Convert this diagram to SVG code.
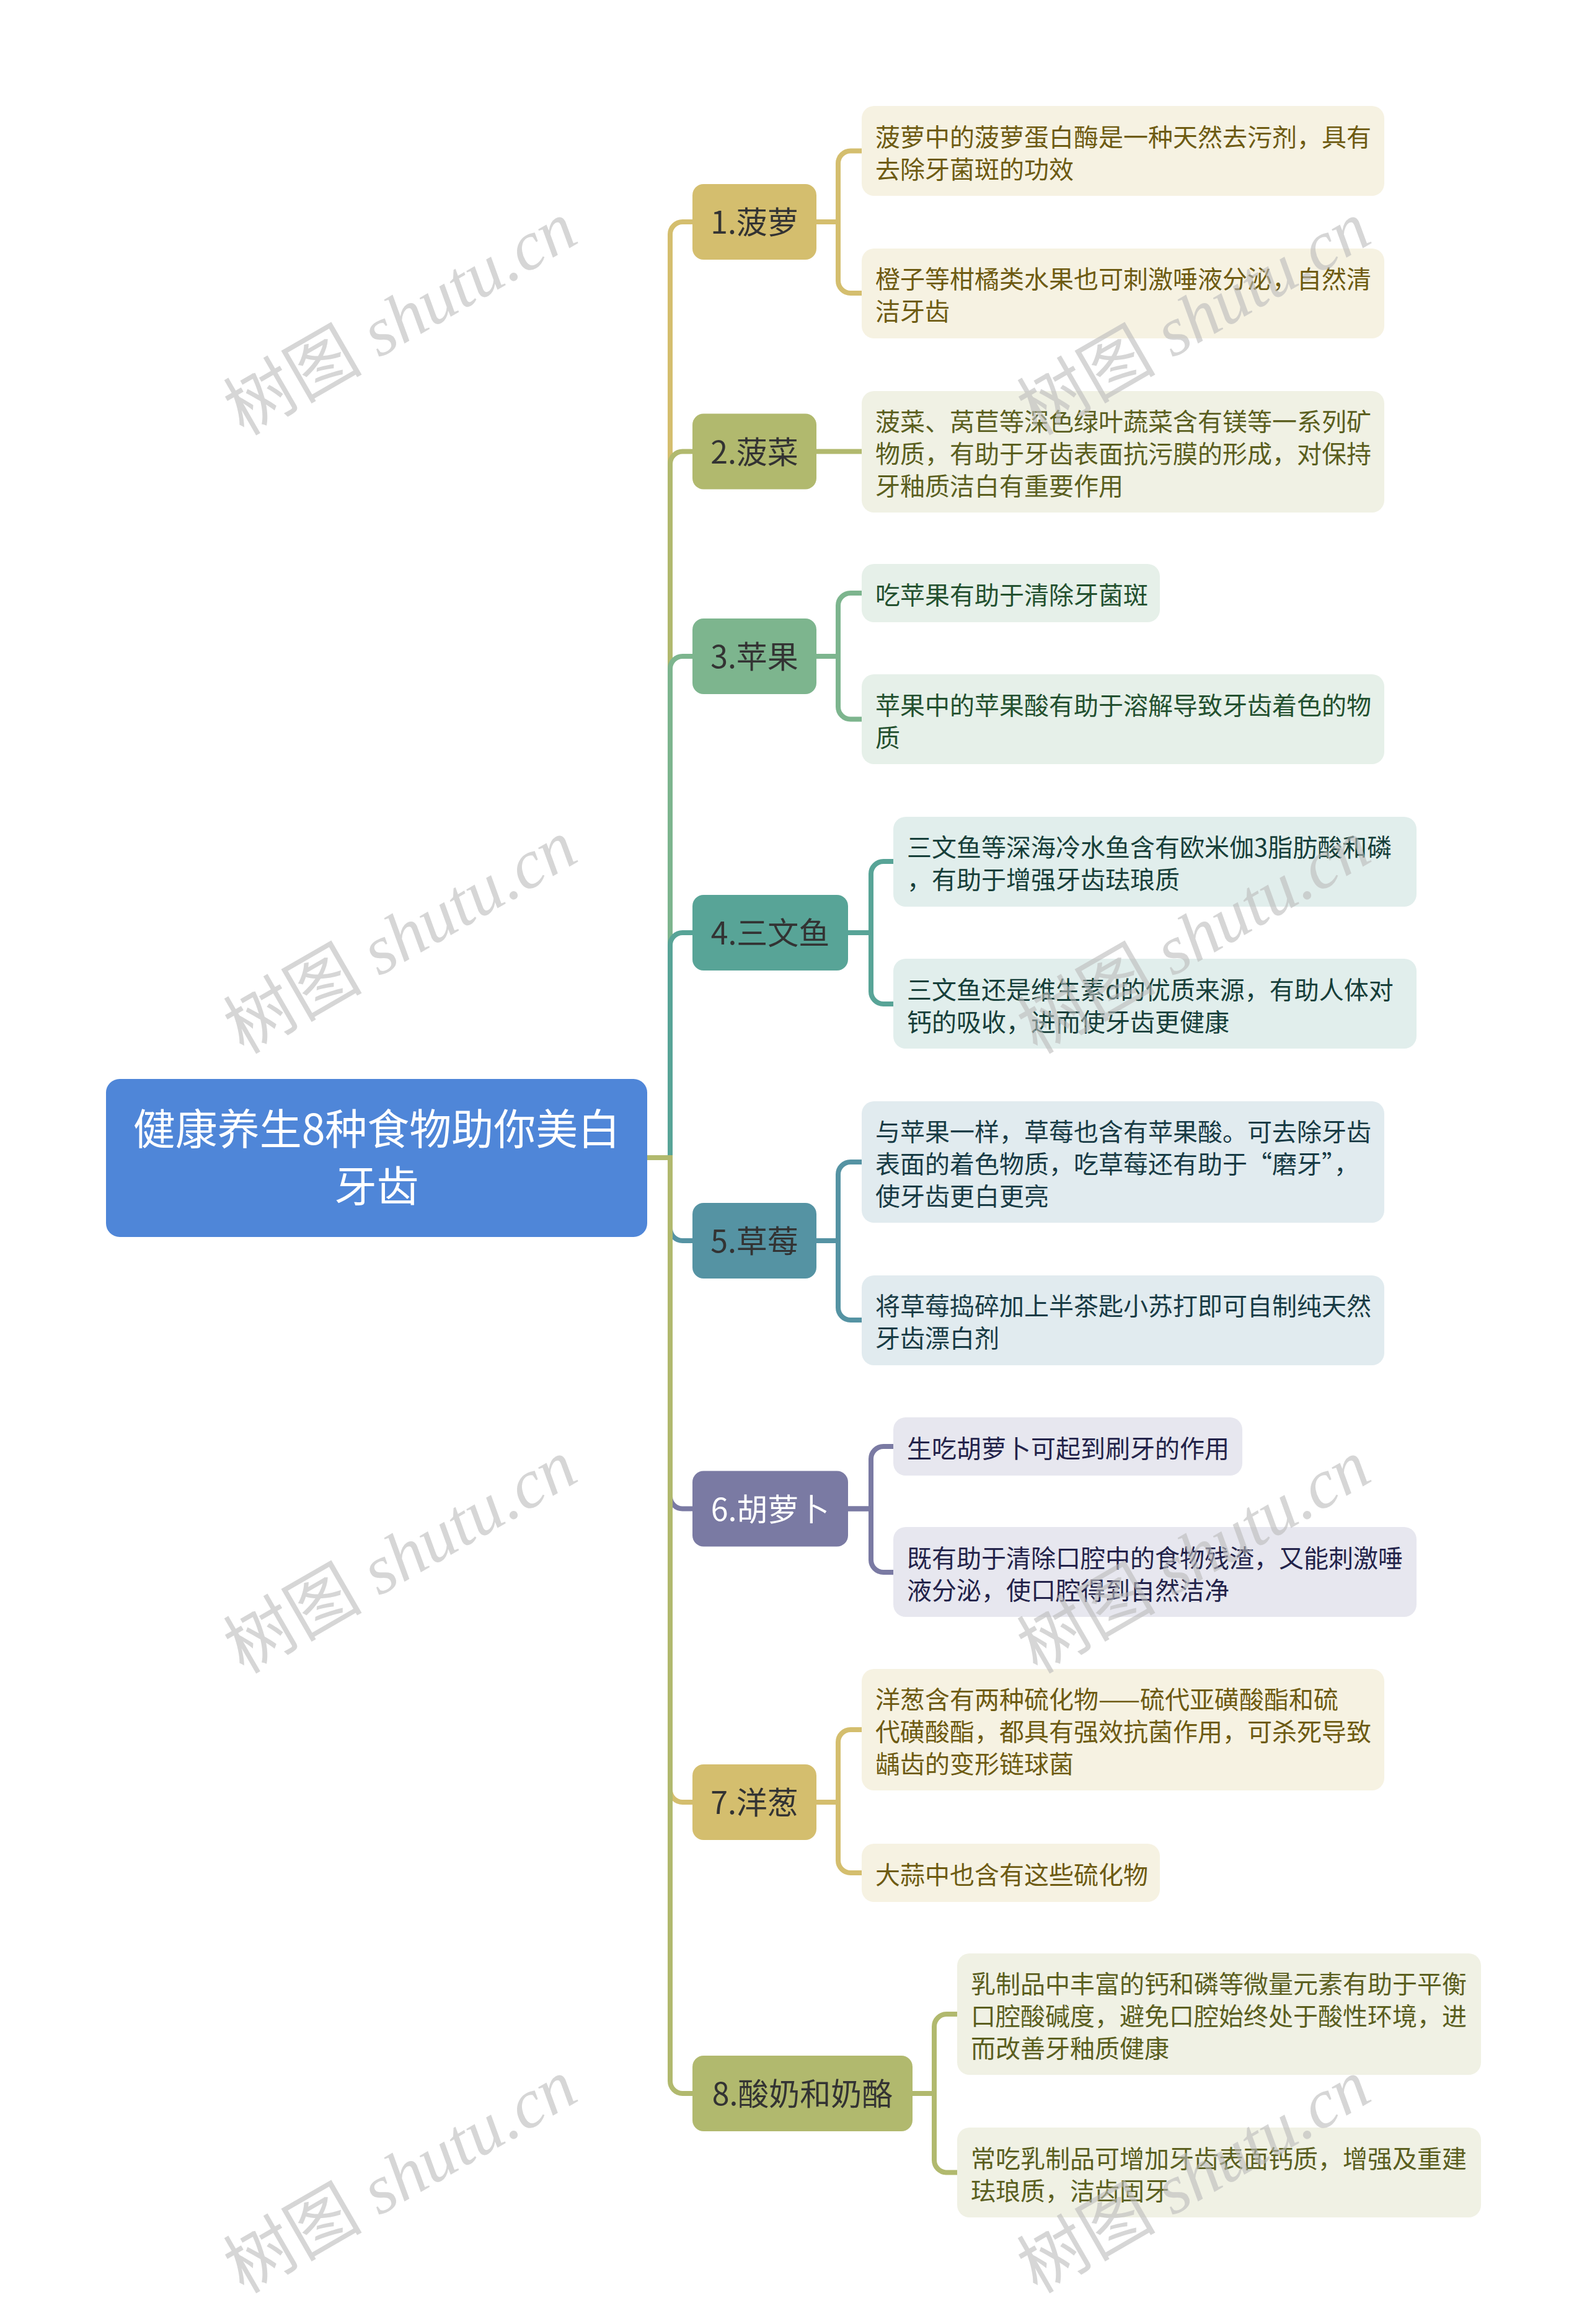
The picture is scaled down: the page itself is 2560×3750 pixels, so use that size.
<svg xmlns="http://www.w3.org/2000/svg" width="2560" height="3750" viewBox="0 0 2560 3750">
<style>
text{font-family:"Noto Sans CJK SC","Noto Sans",sans-serif}
.root{fill:#4F86D8}
.rt{font-size:68px;fill:#ffffff;text-anchor:middle}
.mt{font-size:50px;fill:#333333;text-anchor:middle}
.mw{font-size:50px;fill:#ffffff;text-anchor:middle}
.ct{font-size:40px}
.ln{fill:none;stroke-width:8}
.s1{stroke:#D4BE6E}.s2{stroke:#B1B96E}.s3{stroke:#7DB58E}.s4{stroke:#58A497}.s5{stroke:#5593A3}.s6{stroke:#7A7AA3}
.f1{fill:#D4BE6E}.f2{fill:#B1B96E}.f3{fill:#7DB58E}.f4{fill:#58A497}.f5{fill:#5593A3}.f6{fill:#7A7AA3}
.b1{fill:#F6F2E2}.b2{fill:#F0F1E4}.b3{fill:#E6F0E9}.b4{fill:#E1EEEC}.b5{fill:#E1EBEF}.b6{fill:#E7E7EF}
.t1{fill:#6E5B12}.t2{fill:#5B5F1F}.t3{fill:#23502F}.t4{fill:#173F3A}.t5{fill:#183B45}.t6{fill:#23234A}
.wm{font-size:112px;fill:#BBBBBB;opacity:0.6;text-anchor:middle}
.wl{font-family:"Liberation Serif",serif;font-style:italic}
</style>
<rect width="2560" height="3750" fill="#ffffff"/>
<g id="connectors">
<path class="ln s1" d="M1044,1868 H1081 V378 A20,20 0 0 1 1101,358 H1120"/>
<path class="ln s2" d="M1044,1868 H1081 V748.5 A20,20 0 0 1 1101,728.5 H1120"/>
<path class="ln s3" d="M1044,1868 H1081 V1079 A20,20 0 0 1 1101,1059 H1120"/>
<path class="ln s4" d="M1044,1868 H1081 V1525 A20,20 0 0 1 1101,1505 H1120"/>
<path class="ln s5" d="M1044,1868 H1081 V1982 A20,20 0 0 0 1101,2002 H1120"/>
<path class="ln s6" d="M1044,1868 H1081 V2414.5 A20,20 0 0 0 1101,2434.5 H1120"/>
<path class="ln s1" d="M1044,1868 H1081 V2888 A20,20 0 0 0 1101,2908 H1120"/>
<path class="ln s2" d="M1044,1868 H1081 V3358 A20,20 0 0 0 1101,3378 H1120"/>
<path class="ln s1" d="M1315,358 H1352 V263.5 A20,20 0 0 1 1372,243.5 H1393"/>
<path class="ln s1" d="M1315,358 H1352 V453 A20,20 0 0 0 1372,473 H1393"/>
<path class="ln s2" d="M1315,728.5 H1393"/>
<path class="ln s3" d="M1315,1059 H1352 V977 A20,20 0 0 1 1372,957 H1393"/>
<path class="ln s3" d="M1315,1059 H1352 V1140.5 A20,20 0 0 0 1372,1160.5 H1393"/>
<path class="ln s4" d="M1366,1505 H1405 V1410 A20,20 0 0 1 1425,1390 H1444"/>
<path class="ln s4" d="M1366,1505 H1405 V1600 A20,20 0 0 0 1425,1620 H1444"/>
<path class="ln s5" d="M1315,2002 H1352 V1895 A20,20 0 0 1 1372,1875 H1393"/>
<path class="ln s5" d="M1315,2002 H1352 V2110 A20,20 0 0 0 1372,2130 H1393"/>
<path class="ln s6" d="M1366,2434.5 H1405 V2354 A20,20 0 0 1 1425,2334 H1444"/>
<path class="ln s6" d="M1366,2434.5 H1405 V2517 A20,20 0 0 0 1425,2537 H1444"/>
<path class="ln s1" d="M1315,2908 H1352 V2811 A20,20 0 0 1 1372,2791 H1393"/>
<path class="ln s1" d="M1315,2908 H1352 V3002 A20,20 0 0 0 1372,3022 H1393"/>
<path class="ln s2" d="M1470,3378 H1507 V3270 A20,20 0 0 1 1527,3250 H1547"/>
<path class="ln s2" d="M1470,3378 H1507 V3485.5 A20,20 0 0 0 1527,3505.5 H1547"/>
</g>
<g id="root">
<rect class="root" x="171" y="1741" width="873" height="255" rx="22"/>
<text class="rt" x="607.5" y="1847">健康养生8种食物助你美白</text>
<text class="rt" x="607.5" y="1939">牙齿</text>
</g>
<g id="n1">
<rect class="f1" x="1117" y="297" width="200" height="122" rx="18"/>
<text class="mt" x="1217" y="377">1.菠萝</text>
</g>
<g id="n1a">
<rect class="b1" x="1390" y="171" width="843" height="145" rx="20"/>
<text class="ct t1" x="1412" y="235.5">菠萝中的菠萝蛋白酶是一种天然去污剂，具有</text>
<text class="ct t1" x="1412" y="287.5">去除牙菌斑的功效</text>
</g>
<g id="n1b">
<rect class="b1" x="1390" y="401" width="843" height="145" rx="20"/>
<text class="ct t1" x="1412" y="465">橙子等柑橘类水果也可刺激唾液分泌，自然清</text>
<text class="ct t1" x="1412" y="517">洁牙齿</text>
</g>
<g id="n2">
<rect class="f2" x="1117" y="667.5" width="200" height="122" rx="18"/>
<text class="mt" x="1217" y="747.5">2.菠菜</text>
</g>
<g id="n2a">
<rect class="b2" x="1390" y="631" width="843" height="196" rx="20"/>
<text class="ct t2" x="1412" y="695">菠菜、莴苣等深色绿叶蔬菜含有镁等一系列矿</text>
<text class="ct t2" x="1412" y="747">物质，有助于牙齿表面抗污膜的形成，对保持</text>
<text class="ct t2" x="1412" y="799">牙釉质洁白有重要作用</text>
</g>
<g id="n3">
<rect class="f3" x="1117" y="998" width="200" height="122" rx="18"/>
<text class="mt" x="1217" y="1078">3.苹果</text>
</g>
<g id="n3a">
<rect class="b3" x="1390" y="910" width="481" height="94" rx="20"/>
<text class="ct t3" x="1412" y="975">吃苹果有助于清除牙菌斑</text>
</g>
<g id="n3b">
<rect class="b3" x="1390" y="1088" width="843" height="145" rx="20"/>
<text class="ct t3" x="1412" y="1152.5">苹果中的苹果酸有助于溶解导致牙齿着色的物</text>
<text class="ct t3" x="1412" y="1204.5">质</text>
</g>
<g id="n4">
<rect class="f4" x="1117" y="1444" width="251" height="122" rx="18"/>
<text class="mt" x="1242.5" y="1524">4.三文鱼</text>
</g>
<g id="n4a">
<rect class="b4" x="1441" y="1318" width="844" height="145" rx="20"/>
<text class="ct t4" x="1463" y="1382">三文鱼等深海冷水鱼含有欧米伽3脂肪酸和磷</text>
<text class="ct t4" x="1463" y="1434">，有助于增强牙齿珐琅质</text>
</g>
<g id="n4b">
<rect class="b4" x="1441" y="1547" width="844" height="145" rx="20"/>
<text class="ct t4" x="1463" y="1612">三文鱼还是维生素d的优质来源，有助人体对</text>
<text class="ct t4" x="1463" y="1664">钙的吸收，进而使牙齿更健康</text>
</g>
<g id="n5">
<rect class="f5" x="1117" y="1941" width="200" height="122" rx="18"/>
<text class="mt" x="1217" y="2021">5.草莓</text>
</g>
<g id="n5a">
<rect class="b5" x="1390" y="1777" width="843" height="196" rx="20"/>
<text class="ct t5" x="1412" y="1841">与苹果一样，草莓也含有苹果酸。可去除牙齿</text>
<text class="ct t5" x="1412" y="1893">表面的着色物质，吃草莓还有助于“磨牙”，</text>
<text class="ct t5" x="1412" y="1945">使牙齿更白更亮</text>
</g>
<g id="n5b">
<rect class="b5" x="1390" y="2058" width="843" height="145" rx="20"/>
<text class="ct t5" x="1412" y="2122">将草莓捣碎加上半茶匙小苏打即可自制纯天然</text>
<text class="ct t5" x="1412" y="2174">牙齿漂白剂</text>
</g>
<g id="n6">
<rect class="f6" x="1117" y="2373.5" width="251" height="122" rx="18"/>
<text class="mw" x="1242.5" y="2453.5">6.胡萝卜</text>
</g>
<g id="n6a">
<rect class="b6" x="1441" y="2287" width="563" height="94" rx="20"/>
<text class="ct t6" x="1463" y="2352">生吃胡萝卜可起到刷牙的作用</text>
</g>
<g id="n6b">
<rect class="b6" x="1441" y="2464" width="844" height="145" rx="20"/>
<text class="ct t6" x="1463" y="2529">既有助于清除口腔中的食物残渣，又能刺激唾</text>
<text class="ct t6" x="1463" y="2581">液分泌，使口腔得到自然洁净</text>
</g>
<g id="n7">
<rect class="f1" x="1117" y="2847" width="200" height="122" rx="18"/>
<text class="mt" x="1217" y="2927">7.洋葱</text>
</g>
<g id="n7a">
<rect class="b1" x="1390" y="2693" width="843" height="196" rx="20"/>
<text class="ct t1" x="1412" y="2757">洋葱含有两种硫化物——硫代亚磺酸酯和硫</text>
<text class="ct t1" x="1412" y="2809">代磺酸酯，都具有强效抗菌作用，可杀死导致</text>
<text class="ct t1" x="1412" y="2861">龋齿的变形链球菌</text>
</g>
<g id="n7b">
<rect class="b1" x="1390" y="2975" width="481" height="94" rx="20"/>
<text class="ct t1" x="1412" y="3040">大蒜中也含有这些硫化物</text>
</g>
<g id="n8">
<rect class="f2" x="1117" y="3317" width="355" height="122" rx="18"/>
<text class="mt" x="1294.5" y="3397">8.酸奶和奶酪</text>
</g>
<g id="n8a">
<rect class="b2" x="1544" y="3152" width="845" height="196" rx="20"/>
<text class="ct t2" x="1566" y="3216">乳制品中丰富的钙和磷等微量元素有助于平衡</text>
<text class="ct t2" x="1566" y="3268">口腔酸碱度，避免口腔始终处于酸性环境，进</text>
<text class="ct t2" x="1566" y="3320">而改善牙釉质健康</text>
</g>
<g id="n8b">
<rect class="b2" x="1544" y="3433" width="845" height="145" rx="20"/>
<text class="ct t2" x="1566" y="3497.5">常吃乳制品可增加牙齿表面钙质，增强及重建</text>
<text class="ct t2" x="1566" y="3549.5">珐琅质，洁齿固牙</text>
</g>
<g id="watermarks">
<text class="wm" transform="translate(646,514) rotate(-30)" y="38">树图<tspan class="wl"> shutu.cn</tspan></text>
<text class="wm" transform="translate(1926,514) rotate(-30)" y="38">树图<tspan class="wl"> shutu.cn</tspan></text>
<text class="wm" transform="translate(646,1512) rotate(-30)" y="38">树图<tspan class="wl"> shutu.cn</tspan></text>
<text class="wm" transform="translate(1926,1512) rotate(-30)" y="38">树图<tspan class="wl"> shutu.cn</tspan></text>
<text class="wm" transform="translate(646,2512) rotate(-30)" y="38">树图<tspan class="wl"> shutu.cn</tspan></text>
<text class="wm" transform="translate(1926,2512) rotate(-30)" y="38">树图<tspan class="wl"> shutu.cn</tspan></text>
<text class="wm" transform="translate(646,3512) rotate(-30)" y="38">树图<tspan class="wl"> shutu.cn</tspan></text>
<text class="wm" transform="translate(1926,3512) rotate(-30)" y="38">树图<tspan class="wl"> shutu.cn</tspan></text>
</g>
</svg>
